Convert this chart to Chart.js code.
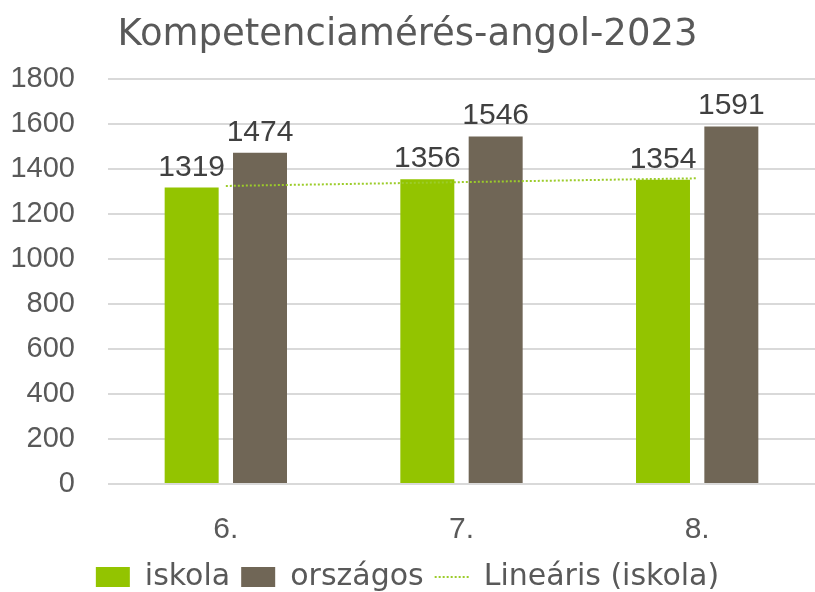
<!DOCTYPE html>
<html>
<head>
<meta charset="utf-8">
<script src="https://cdn.jsdelivr.net/npm/chart.js@4"></script>
<style>
  html, body { margin: 0; padding: 0; background: #fff; }
  #wrap { width: 815px; height: 592px; }
</style>
</head>
<body>
<div id="wrap"><canvas id="chart"></canvas></div>
<script>
// categories and values
const grades = ['6.', '7.', '8.'];
const iskola = [1319, 1356, 1354];
const orszagos = [1474, 1546, 1591];
const trendIskola = [1326, 1343, 1360]; // linear trend as drawn in the picture
const yTicks = [0, 200, 400, 600, 800, 1000, 1200, 1400, 1600, 1800];

const NUM_FONT = "'Liberation Sans', Arial, sans-serif";
const TXT_FONT = "'DejaVu Sans', sans-serif";
const TEXT = '#595959';

// value labels above the bars
const barLabels = {
  id: 'barLabels',
  afterDatasetsDraw(chart) {
    const ctx = chart.ctx;
    ctx.save();
    ctx.font = '30px ' + NUM_FONT;
    ctx.fillStyle = '#404040';
    ctx.textAlign = 'center';
    ctx.textBaseline = 'alphabetic';
    chart.data.datasets.forEach((ds, i) => {
      if (ds.type === 'line') return;
      chart.getDatasetMeta(i).data.forEach((bar, j) => {
        ctx.fillText(ds.data[j], bar.x, bar.y - 12);
      });
    });
    ctx.restore();
  }
};

const ctx = document.getElementById('chart').getContext('2d');

new Chart(ctx, {
  type: 'bar',
  data: {
    labels: grades,
    datasets: [
      {
        label: 'iskola',
        data: iskola,
        backgroundColor: '#93c400',
        borderWidth: 0,
        order: 1
      },
      {
        label: 'országos',
        data: orszagos,
        backgroundColor: '#706656',
        borderWidth: 0,
        order: 1
      },
      {
        type: 'line',
        label: 'Lineáris (iskola)',
        data: trendIskola,
        borderColor: '#9ccc2a',
        borderWidth: 2,
        borderDash: [2, 2],
        pointRadius: 0,
        fill: false,
        order: 0
      }
    ]
  },
  options: {
    responsive: true,
    maintainAspectRatio: false,
    animation: false,
    layout: { padding: { left: 0, right: 0, top: 0, bottom: -10 } },
    datasets: {
      bar: { barPercentage: 0.79, categoryPercentage: 0.58 }
    },
    plugins: {
      title: {
        display: true,
        text: 'Kompetenciamérés-angol-2023',
        color: TEXT,
        font: { family: TXT_FONT, size: 37, weight: 'normal' },
        padding: { top: 13, bottom: 22 }
      },
      legend: {
        position: 'bottom',
        labels: {
          color: TEXT,
          font: { family: TXT_FONT, size: 30 },
          usePointStyle: true,
          pointStyleWidth: 34,
          boxHeight: 20,
          padding: 11,
          sort: (a, b) => a.datasetIndex - b.datasetIndex,
          generateLabels(chart) {
            const items = Chart.defaults.plugins.legend.labels.generateLabels(chart);
            return items.map(it => {
              const ds = chart.data.datasets[it.datasetIndex];
              if (ds.type === 'line') {
                it.pointStyle = 'line';
                it.strokeStyle = ds.borderColor;
                it.lineWidth = ds.borderWidth;
                it.lineDash = ds.borderDash;
              } else {
                it.pointStyle = 'rect';
                it.lineWidth = 0;
              }
              return it;
            });
          }
        }
      },
      tooltip: { enabled: false }
    },
    scales: {
      x: {
        grid: { display: false },
        border: { display: false },
        afterFit(scale) { scale.height = 67; },
        ticks: {
          color: TEXT,
          font: { family: NUM_FONT, size: 30 },
          padding: 20
        }
      },
      y: {
        min: 0,
        max: 1800,
        afterBuildTicks(scale) {
          scale.ticks = yTicks.map(v => ({ value: v }));
        },
        afterFit(scale) { scale.width = 108; },
        grid: { color: '#d9d9d9', lineWidth: 2, drawTicks: false },
        border: { display: false },
        ticks: {
          color: TEXT,
          font: { family: NUM_FONT, size: 29 },
          padding: 33,
          callback: v => String(v)
        }
      }
    }
  },
  plugins: [barLabels]
});
</script>
</body>
</html>
